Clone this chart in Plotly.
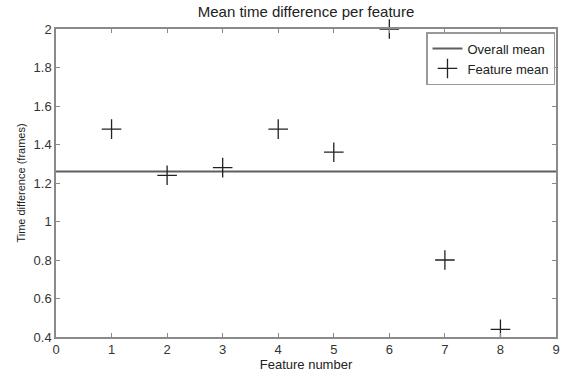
import plotly.graph_objects as go

features = [1, 2, 3, 4, 5, 6, 7, 8]
feature_mean = [1.48, 1.24, 1.28, 1.48, 1.36, 2.0, 0.8, 0.44]
overall_mean = 1.26
x_range = [0, 9]
y_range = [0.4, 2]
x_ticks = [0, 1, 2, 3, 4, 5, 6, 7, 8, 9]
y_ticks = [0.4, 0.6, 0.8, 1, 1.2, 1.4, 1.6, 1.8, 2]
y_ticklabels = ["0.4", "0.6", "0.8", "1", "1.2", "1.4", "1.6", "1.8", "2"]

FONT = "Liberation Sans, Arial"

fig = go.Figure()
fig.add_trace(go.Scatter(
    x=x_range, y=[overall_mean, overall_mean], mode="lines",
    line=dict(color="#5e5e5e", width=2), name="Overall mean", cliponaxis=False))
fig.add_trace(go.Scatter(
    x=features, y=feature_mean, mode="markers",
    marker=dict(symbol="cross-thin", size=14, line=dict(color="#222222", width=1.3)),
    name="Feature mean", cliponaxis=False))

axis_common = dict(
    showline=True, linecolor="#8a8a8a", linewidth=1.5, mirror="ticks",
    ticks="inside", ticklen=4, tickcolor="#8a8a8a", showgrid=False, zeroline=False,
    tickfont=dict(family=FONT, size=13, color="#333333"),
)

fig.update_layout(
    width=568, height=374,
    margin=dict(l=56, r=8, t=29, b=34),
    paper_bgcolor="white", plot_bgcolor="white",
    title=dict(text="Mean time difference per feature", x=0.5, xref="paper", xanchor="center",
               y=1, yref="container", yanchor="top", pad=dict(t=6),
               font=dict(family=FONT, size=15, color="#222222")),
    xaxis=dict(range=x_range, tickvals=x_ticks,
               title=dict(text="Feature number", standoff=0,
                          font=dict(family=FONT, size=13, color="#222222")),
               **axis_common),
    yaxis=dict(range=y_range, tickvals=y_ticks, ticktext=y_ticklabels,
               title=dict(text="Time difference (frames)", standoff=6,
                          font=dict(family=FONT, size=11, color="#222222")),
               **axis_common),
    legend=dict(x=0.998, xanchor="right", y=0.99, yanchor="top",
                bordercolor="#999999", borderwidth=1.5, bgcolor="white",
                font=dict(family=FONT, size=13, color="#222222"),
                tracegroupgap=0, itemwidth=30),
    showlegend=True,
)

fig.write_html("out.html")
